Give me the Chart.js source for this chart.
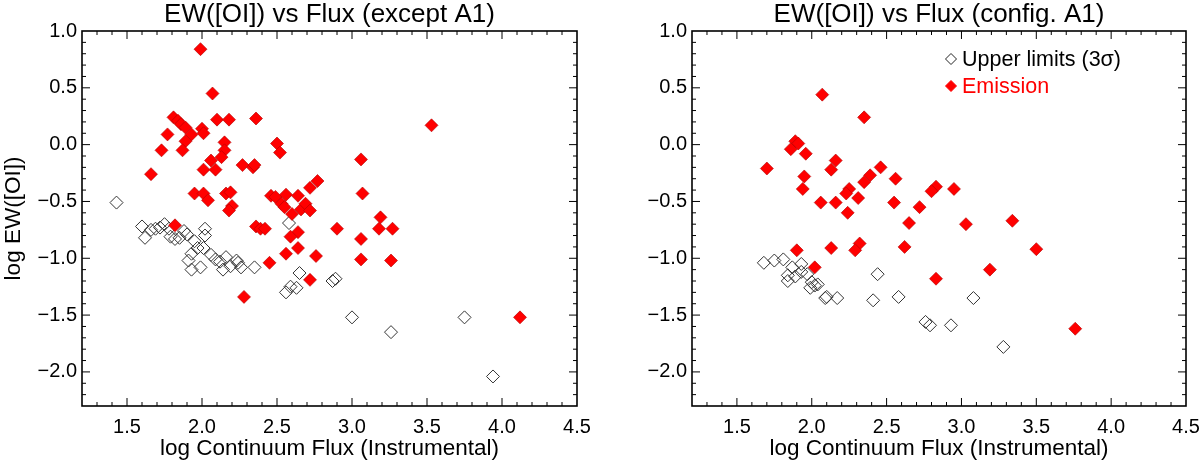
<!DOCTYPE html>
<html>
<head>
<meta charset="utf-8">
<script src="https://cdn.jsdelivr.net/npm/chart.js@4.4.1/dist/chart.umd.min.js"></script>
<style>
  html, body { margin: 0; padding: 0; background: #fff; }
  #wrap { width: 1200px; height: 462px; display: flex; }
  .cell { position: relative; width: 600px; height: 462px; }
</style>
</head>
<body>
<div id="wrap">
  <div class="cell"><canvas id="left"></canvas></div>
  <div class="cell"><canvas id="right"></canvas></div>
</div>
<script>
// axis ranges / tick labels
const xRange = [1.2, 4.5];
const yRange = [-2.3, 1.0];
const xTicks = [1.5, 2.0, 2.5, 3.0, 3.5, 4.0, 4.5];
const yTicks = [-2.0, -1.5, -1.0, -0.5, 0.0, 0.5, 1.0];

const titles = ['EW([OI]) vs Flux (except A1)', 'EW([OI]) vs Flux (config. A1)'];
const xTitle = 'log Continuum Flux (Instrumental)';
const yTitle = 'log EW([OI])';
const legendLabels = ['Upper limits (3\u03c3)', 'Emission'];

// left panel: detected emission [logFlux, logEW]
const leftEmission = [
  [1.99, 0.84], [2.07, 0.45], [1.81, 0.24], [1.84, 0.21], [1.86, 0.18], [1.89, 0.15],
  [1.93, 0.09], [1.89, 0.03], [1.77, 0.09], [1.73, -0.05], [1.87, -0.05], [1.66, -0.26],
  [2.00, 0.14], [2.01, 0.10], [2.10, 0.22], [2.18, 0.22], [2.36, 0.23], [3.53, 0.17],
  [2.15, 0.02], [2.15, -0.05], [2.13, -0.11], [2.06, -0.14], [2.01, -0.22], [2.09, -0.22],
  [2.27, -0.18], [2.34, -0.20], [2.35, -0.18], [2.50, 0.01], [2.52, -0.07], [3.06, -0.13],
  [1.95, -0.43], [2.01, -0.43], [2.04, -0.49], [2.16, -0.43], [2.19, -0.42], [2.20, -0.54],
  [2.18, -0.58], [2.46, -0.45], [2.49, -0.46], [2.56, -0.44], [2.64, -0.45], [2.53, -0.52],
  [2.55, -0.55], [2.60, -0.61], [2.66, -0.57], [2.69, -0.52], [2.72, -0.58], [2.72, -0.38],
  [2.77, -0.32], [3.07, -0.43], [3.19, -0.64], [1.82, -0.71], [2.36, -0.72], [2.39, -0.74],
  [2.42, -0.74], [2.90, -0.74], [3.18, -0.74], [3.27, -0.74], [2.64, -0.77], [2.59, -0.81],
  [3.06, -0.83], [2.64, -0.91], [2.56, -0.96], [2.76, -0.98], [2.45, -1.04], [3.06, -1.01],
  [3.26, -1.02], [2.72, -1.19], [2.28, -1.34], [4.12, -1.52]
];

// left panel: upper limits
const leftUpper = [
  [1.43, -0.51], [1.60, -0.72], [1.62, -0.82], [1.66, -0.75], [1.69, -0.74], [1.72, -0.73],
  [1.75, -0.70], [1.78, -0.74], [1.79, -0.81], [1.82, -0.83], [1.85, -0.82], [1.88, -0.76],
  [1.90, -0.79], [1.95, -0.85], [2.02, -0.74], [2.02, -0.80], [1.97, -0.91], [2.01, -0.91],
  [1.93, -0.96], [1.91, -1.02], [1.93, -1.10], [1.99, -1.08], [2.06, -0.97], [2.09, -1.01],
  [2.12, -1.03], [2.16, -0.99], [2.14, -1.10], [2.19, -1.07], [2.23, -1.02], [2.24, -1.04],
  [2.26, -1.08], [2.35, -1.08], [2.58, -0.69], [2.65, -1.13], [2.56, -1.30], [2.59, -1.25],
  [2.63, -1.26], [2.87, -1.20], [2.89, -1.18], [3.00, -1.52], [3.26, -1.65], [3.75, -1.52],
  [3.94, -2.04]
];

// right panel: detected emission
const rightEmission = [
  [2.07, 0.44], [2.35, 0.24], [1.89, 0.03], [1.91, 0.01], [1.86, -0.04], [1.96, -0.08],
  [1.70, -0.21], [2.16, -0.14], [2.13, -0.22], [2.46, -0.20], [2.56, -0.30], [1.95, -0.28],
  [1.94, -0.39], [2.39, -0.27], [2.35, -0.33], [2.25, -0.39], [2.23, -0.43], [2.83, -0.37],
  [2.80, -0.41], [2.95, -0.39], [2.06, -0.51], [2.16, -0.51], [2.31, -0.47], [2.24, -0.60],
  [2.55, -0.51], [2.72, -0.55], [2.65, -0.69], [3.03, -0.70], [3.34, -0.67], [1.90, -0.93],
  [2.13, -0.91], [2.32, -0.87], [2.29, -0.93], [2.62, -0.90], [3.50, -0.92], [2.02, -1.08],
  [3.19, -1.10], [2.83, -1.18], [3.76, -1.62]
];

// right panel: upper limits
const rightUpper = [
  [1.68, -1.04], [1.75, -1.02], [1.81, -1.01], [1.87, -1.08], [1.93, -1.05], [1.84, -1.15],
  [1.84, -1.20], [1.89, -1.16], [1.93, -1.12], [1.97, -1.14], [2.00, -1.21], [1.99, -1.26],
  [2.04, -1.23], [2.02, -1.24], [2.10, -1.34], [2.09, -1.35], [2.17, -1.35], [2.41, -1.37],
  [2.44, -1.14], [2.58, -1.34], [2.76, -1.56], [2.79, -1.59], [2.93, -1.59], [3.08, -1.35],
  [3.28, -1.78]
];

const FONT = '"Liberation Sans", Arial, Helvetica, sans-serif';
const RED = '#ff0000';

function fmtTick(v) {
  return v < 0 ? '\u2212' + Math.abs(v).toFixed(1) : v.toFixed(1);
}

function toPoints(arr) { return arr.map(p => ({ x: p[0], y: p[1] })); }

// inward ticks on all four sides, the frame and the panel title
const frameTicks = {
  id: 'frameTicks',
  afterDraw(chart, args, opts) {
    const { ctx, chartArea: a, scales: { x, y } } = chart;
    const line = (x1, y1, x2, y2) => { ctx.beginPath(); ctx.moveTo(x1, y1); ctx.lineTo(x2, y2); ctx.stroke(); };
    ctx.save();
    ctx.strokeStyle = '#000';
    ctx.lineWidth = 1;
    for (let i = 13; i <= 44; i++) {
      const v = i / 10;
      const p = x.getPixelForValue(v);
      const len = xTicks.some(t => Math.abs(t - v) < 1e-6) ? 8 : 4;
      line(p, a.bottom, p, a.bottom - len);
      line(p, a.top, p, a.top + len);
    }
    for (let i = -22; i <= 9; i++) {
      const v = i / 10;
      const p = y.getPixelForValue(v);
      const len = yTicks.some(t => Math.abs(t - v) < 1e-6) ? 8 : 4;
      line(a.left, p, a.left + len, p);
      line(a.right, p, a.right - len, p);
    }
    ctx.lineWidth = 1.6;
    ctx.strokeRect(a.left, a.top, a.right - a.left, a.bottom - a.top);

    ctx.fillStyle = '#000';
    ctx.font = '26px ' + FONT;
    ctx.textAlign = 'center';
    ctx.textBaseline = 'alphabetic';
    ctx.fillText(opts.title, (a.left + a.right) / 2, 22);
    ctx.restore();
  }
};

// legend drawn inside the right panel
const insideLegend = {
  id: 'insideLegend',
  afterDraw(chart, args, opts) {
    if (!opts.show) return;
    const ctx = chart.ctx;
    const a = chart.chartArea;
    ctx.save();
    ctx.font = '21.5px ' + FONT;
    ctx.textBaseline = 'middle';
    legendLabels.forEach((label, i) => {
      const cx = a.left + opts.dx;
      const cy = a.top + opts.dy + i * opts.gap;
      const hollow = i === 0;
      ctx.fillStyle = hollow ? 'rgba(0,0,0,0)' : RED;
      ctx.strokeStyle = hollow ? '#222' : RED;
      Chart.helpers.drawPoint(ctx, { pointStyle: 'rectRot', radius: 5.5, borderWidth: 1 }, cx, cy);
      ctx.fillStyle = hollow ? '#000' : RED;
      ctx.fillText(label, cx + 11, cy + 1);
    });
    ctx.restore();
  }
};

function makeChart(id, emission, upper, title, showYTitle, axisWidth, padRight, showLegend) {
  return new Chart(document.getElementById(id), {
    type: 'scatter',
    data: {
      datasets: [
        { label: legendLabels[1], data: toPoints(emission), order: 0, pointStyle: 'rectRot', pointRadius: 6.5,
          backgroundColor: RED, borderColor: '#b00000', borderWidth: 0.6 },
        { label: legendLabels[0], data: toPoints(upper), order: 1, pointStyle: 'rectRot', pointRadius: 6.5,
          backgroundColor: 'rgba(0,0,0,0)', borderColor: '#333', borderWidth: 1 },
      ],
    },
    options: {
      responsive: true, maintainAspectRatio: false, animation: false,
      events: [],
      layout: { padding: { top: 31, right: padRight, bottom: 0, left: 0 } },
      plugins: {
        legend: { display: false },
        tooltip: { enabled: false },
        title: { display: false },
        frameTicks: { title },
        insideLegend: { show: showLegend, dx: 259, dy: 28, gap: 27 },
      },
      scales: {
        x: {
          type: 'linear', min: xRange[0], max: xRange[1],
          grid: { display: false, drawTicks: false }, border: { display: false },
          afterBuildTicks: s => { s.ticks = xTicks.map(v => ({ value: v })); },
          afterFit: s => { s.height = 56; s.paddingLeft = 0; s.paddingRight = 0; },
          ticks: { color: '#000', font: { family: FONT, size: 20 }, padding: 9, maxRotation: 0, autoSkip: false, callback: v => fmtTick(v) },
          title: { display: true, text: xTitle, color: '#000', font: { family: FONT, size: 22.5 }, padding: { top: 0, bottom: 0 } },
        },
        y: {
          type: 'linear', min: yRange[0], max: yRange[1],
          grid: { display: false, drawTicks: false }, border: { display: false },
          afterBuildTicks: s => { s.ticks = yTicks.map(v => ({ value: v })); },
          afterFit: s => { s.width = axisWidth; s.paddingTop = 0; s.paddingBottom = 0; },
          ticks: { color: '#000', font: { family: FONT, size: 20 }, padding: 5, autoSkip: false, callback: v => fmtTick(v) },
          title: { display: showYTitle, text: yTitle, color: '#000', font: { family: FONT, size: 22.5 }, padding: { top: 0, bottom: 0 } },
        },
      },
    },
    plugins: [frameTicks, insideLegend],
  });
}

makeChart('left', leftEmission, leftUpper, titles[0], true, 82, 23, false);
makeChart('right', rightEmission, rightUpper, titles[1], false, 92, 14, true);
</script>
</body>
</html>
